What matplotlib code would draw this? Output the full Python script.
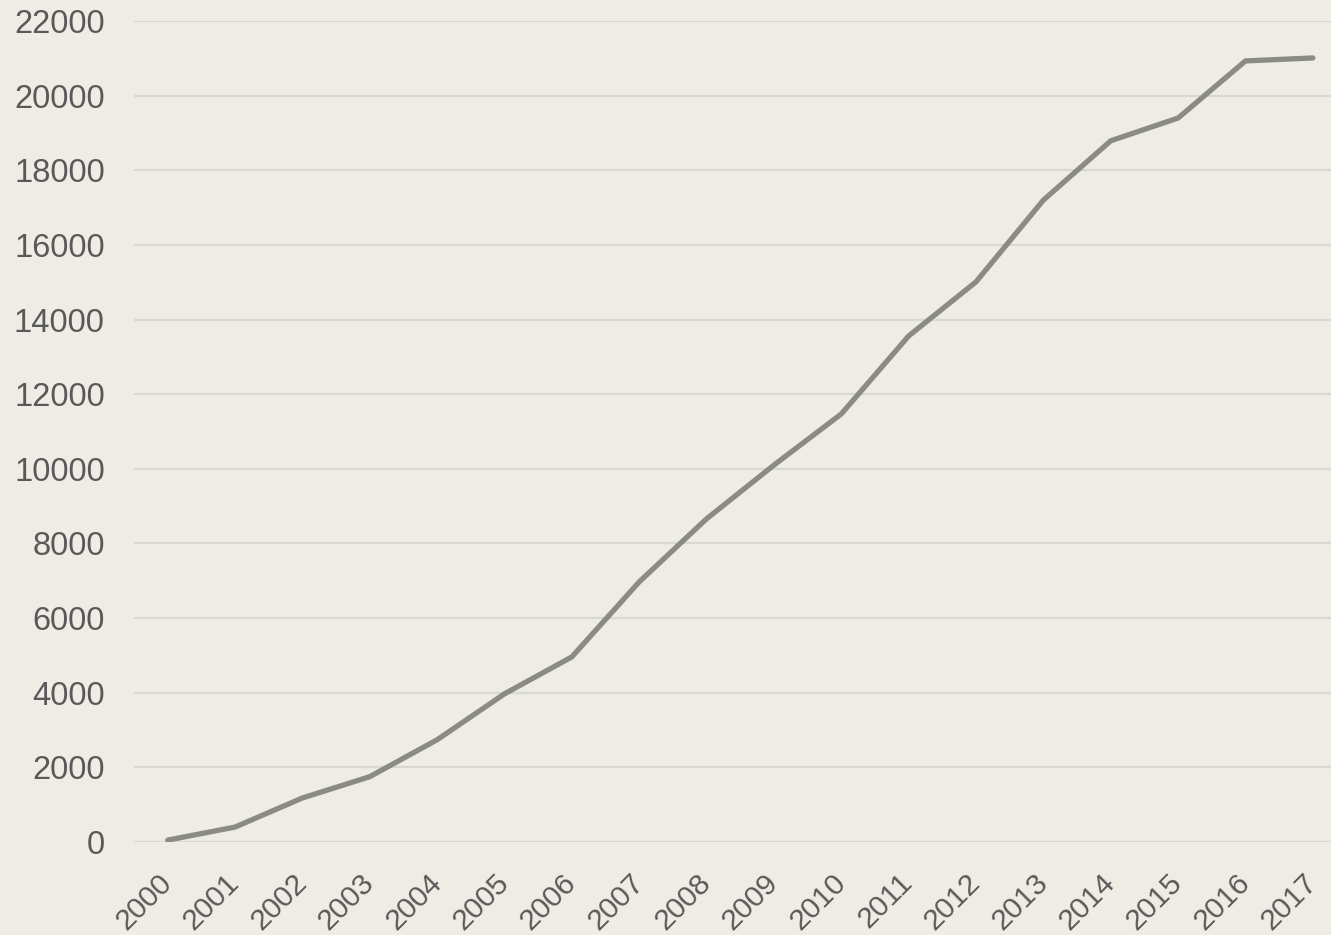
import matplotlib
matplotlib.use("Agg")
import matplotlib.pyplot as plt

years = [str(y) for y in range(2000, 2018)]
values = [50, 400, 1180, 1750, 2740, 3970, 4960, 6970, 8660, 10100,
          11470, 13560, 15010, 17200, 18790, 19400, 20930, 21010]

bg = "#EEECE5"
plt.rcParams["font.family"] = ["Liberation Sans", "DejaVu Sans"]

fig = plt.figure(figsize=(13.31, 9.35), dpi=100, facecolor=bg)
ax = fig.add_axes([134 / 1331, 1 - 842 / 935, 1 - 134 / 1331, (842 - 21) / 935])
ax.set_facecolor(bg)

x = list(range(len(years)))
ax.plot(x, values, color="#8A8B84", linewidth=3.8, solid_capstyle="round", zorder=3)

ax.set_xlim(-0.5, 17.27)
ax.set_ylim(0, 22000)
ax.set_yticks(range(0, 22001, 2000))
ax.set_xticks(x)
ax.set_xticklabels(years, rotation=45, ha="right", va="center", rotation_mode="anchor")
ax.grid(axis="y", color="#D8D8D4", linewidth=1.6)
ax.set_axisbelow(True)
for s in ax.spines.values():
    s.set_visible(False)
ax.tick_params(axis="both", length=0, labelcolor="#595959")
ax.tick_params(axis="y", pad=21, labelsize=23.5)
ax.tick_params(axis="x", pad=26, labelsize=21.5)

fig.savefig("out.png", facecolor=bg)
